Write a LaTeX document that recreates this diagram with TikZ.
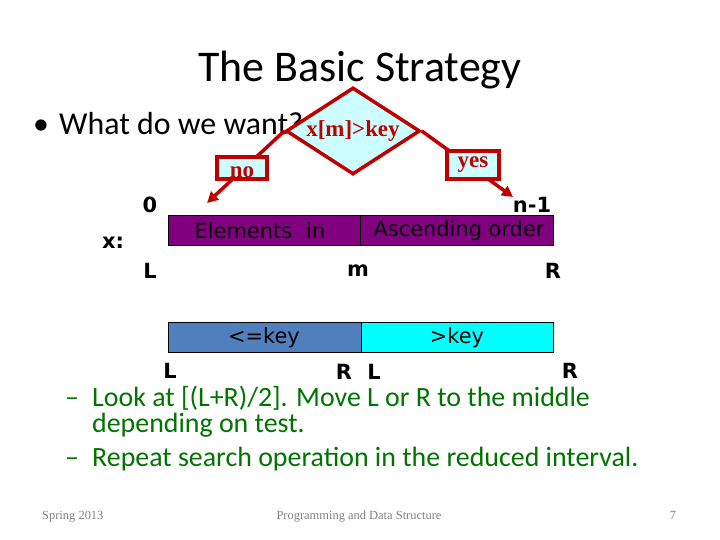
\documentclass[tikz,border=0pt]{standalone}
\usepackage{fontspec}
\setmainfont{Carlito}
\newfontfamily\dejavu{DejaVu Sans}
\newfontfamily\timesf{Liberation Serif}
\usetikzlibrary{shapes.geometric,arrows.meta}
\definecolor{dred}{RGB}{192,0,0}
\definecolor{lcyan}{RGB}{204,255,255}
\definecolor{purp}{RGB}{128,0,128}
\definecolor{steel}{RGB}{79,127,189}
\definecolor{cyanf}{RGB}{0,255,255}
\definecolor{dgreen}{RGB}{0,115,0}
\definecolor{foot}{RGB}{130,130,130}
\tikzset{
  lbl/.style={font=\dejavu\bfseries\fontsize{21}{24}\selectfont, inner sep=0pt, text depth=0pt},
  barbox/.style={draw=black, line width=0.8bp, minimum height=30bp, inner sep=0pt},
  bartext/.style={inner sep=0pt, font=\dejavu\fontsize{21}{24}\selectfont},
  redline/.style={draw=dred, line width=3.5bp, -{Triangle[length=11bp,width=11bp]}},
  tagbox/.style={draw=dred, line width=3.5bp, fill=lcyan, inner sep=0pt, text=dred, font=\timesf\bfseries\fontsize{23}{24}\selectfont},
  green/.style={text=dgreen, font=\fontsize{28}{32}\selectfont, inner sep=0pt, anchor=base west},
  footer/.style={text=foot, font=\timesf\fontsize{12.5}{15}\selectfont, inner sep=0pt, anchor=base}
}
\begin{document}
\begin{tikzpicture}[x=1bp,y=-1bp]
\useasboundingbox (0,0) rectangle (720,540);
% title
\node[anchor=base, inner sep=0pt, font=\fontsize{44}{50}\selectfont] (title) at (360,82) {The Basic Strategy};
% bullet line
\node[anchor=base west, inner sep=0pt, font=\fontsize{32}{36}\selectfont] (bul) at (33,135) {•};
\node[anchor=base west, inner sep=0pt, font=\fontsize{32}{36}\selectfont] (q) at (59,135) {What do we want?};
% diamond
\node[diamond, shape aspect=1.54, draw=dred, line width=3.5bp, fill=lcyan, minimum width=134bp, minimum height=87bp, inner sep=0pt, text height=13bp, text depth=2bp, text=dred, font=\timesf\bfseries\fontsize{23}{24}\selectfont] (d) at (353,131) {x[m]>key};
\coordinate (notip) at (207,203);
\coordinate (yestip) at (513,197);
\draw[redline] (d.west) -- (notip);
\draw[redline] (d.east) -- (yestip);
\node[tagbox, minimum width=50bp, minimum height=22bp, text height=13bp, text depth=0pt] (no) at (242,168) {\raisebox{-3bp}{no}};
\node[tagbox, minimum width=52bp, minimum height=28bp] (yes) at (473,165) {yes};
% top labels
\node[lbl] (zero) at (150,205) {0};
\node[lbl] (nm1) at (532,205) {n-1};
\node[lbl] (xl) at (113,243) {x:};
\node[lbl] (L1) at (150,271) {L};
\node[lbl] (m1) at (358,271) {m};
\node[lbl] (R1) at (553,271) {R};
% bar 1
\node[barbox, fill=purp, minimum width=192bp] (b1l) at (264,230) {};
\node[barbox, fill=purp, minimum width=193bp] (b1r) at (456.5,230) {};
\node[bartext] (t1l) at (260,231) {Elements\hspace{14bp}in};
\node[bartext] (t1r) at (459,231) {Ascending order};
% bar 2
\node[barbox, fill=steel, minimum width=193bp] (b2l) at (264.5,337) {};
\node[barbox, fill=cyanf, minimum width=192bp] (b2r) at (457,337) {};
\node[bartext] (t2l) at (264,338) {<=key};
\node[bartext] (t2r) at (457,338) {>key};
% lower labels
\node[lbl] (L2) at (170,371) {L};
\node[lbl] (R2) at (344,372) {R};
\node[lbl] (L3) at (374,372) {L};
\node[lbl] (R3) at (570,371) {R};
% green text
\node[green] (d1) at (65,406) {–};
\node[green] (g1) at (92,406) {Look at [(L+R)/2]. Move L or R to the middle};
\node[green] (g2) at (92,432) {depending on test.};
\node[green] (d2) at (65,466) {–};
\node[green] (g3) at (92,466) {Repeat search operation in the reduced interval.};
% footer
\node[footer, anchor=base west] (f1) at (42,519) {Spring 2013};
\node[footer] (f2) at (359,519) {Programming and Data Structure};
\node[footer] (f3) at (673,519) {7};
\end{tikzpicture}
\end{document}
